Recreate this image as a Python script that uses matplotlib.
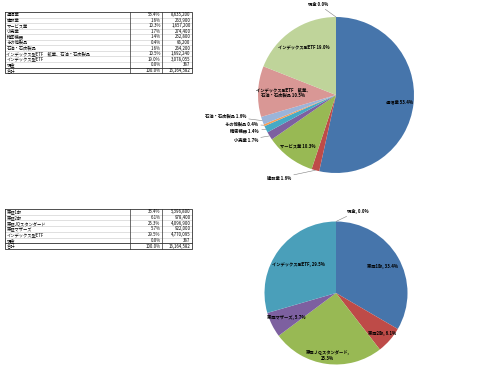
import numpy as np
import matplotlib

matplotlib.use("Agg")
import matplotlib.pyplot as plt

plt.rcParams["font.family"] = ["Noto Sans CJK JP", "DejaVu Sans"]

# 業種別
sector_names = ["通信業", "建設業", "サービス業", "小売業", "精密機器", "その他製品",
                "石油・石炭製品", "インデックス型ETF　鉱業、石油・石炭製品",
                "インデックス型ETF", "現金"]
sector_pct = [53.4, 1.6, 10.3, 1.7, 1.4, 0.4, 1.6, 10.5, 19.0, 0.0]
sector_amount = [8635200, 263900, 1657200, 274400, 232800, 66200, 264200,
                 1692240, 3078055, 387]
sector_colors = ["#4675AB", "#BE4B48", "#98B954", "#7D60A0", "#46AAC5",
                 "#F59D56", "#9BB4D9", "#D99795", "#BFD49A", "#FFFFFF"]

# 市場別
market_names = ["東証1部", "東証2部", "東証JQスタンダード", "東証マザーズ",
                "インデックス型ETF", "現金"]
market_labels = ["東証1部", "東証2部", "東証ＪＱスタンダード", "東証マザーズ",
                 "インデックス型ETF", "現金"]
market_pct = [33.4, 6.1, 25.3, 5.7, 29.5, 0.0]
market_amount = [5396800, 978400, 4096900, 922000, 4770095, 387]
market_colors = ["#4675AB", "#BE4B48", "#98B954", "#7D60A0", "#4A9FBA", "#FFFFFF"]

W, H = 480, 382
fig = plt.figure(figsize=(4.8, 3.82), dpi=100)
ax = fig.add_axes([0, 0, 1, 1])
ax.set_xlim(0, W)
ax.set_ylim(0, H)
ax.axis("off")

FS = 3.1


def draw_table(top, row_h, names, pcts, amounts):
    x0, x1, x2, x3 = 5, 130, 162, 192
    rows = list(zip(names, [f"{p:.1f}%" for p in pcts],
                    [f"{a:,}" for a in amounts]))
    total = sum(amounts)
    rows.append(("合計", f"{100 * total / total:.1f}%", f"{total:,}"))
    n = len(rows)
    ys = [H - (top + i * row_h) for i in range(n + 1)]
    for i in range(1, n):
        ax.plot([x0, x3], [ys[i], ys[i]], color="#C8C8C8", lw=0.4)
    ax.plot([x0, x3], [ys[n - 1], ys[n - 1]], color="#333333", lw=0.6)
    ax.plot([x0, x3, x3, x0, x0], [ys[0], ys[0], ys[n], ys[n], ys[0]],
            color="#333333", lw=0.6)
    for xv in (x1, x2):
        ax.plot([xv, xv], [ys[0], ys[n]], color="#333333", lw=0.5)
    for i, (nm, p, a) in enumerate(rows):
        yc = (ys[i] + ys[i + 1]) / 2
        ax.text(x0 + 1.5, yc, nm, fontsize=FS, va="center", ha="left")
        ax.text(x2 - 1.5, yc, p, fontsize=FS, va="center", ha="right")
        ax.text(x3 - 1.5, yc, a, fontsize=FS, va="center", ha="right")


draw_table(12, 5.55, sector_names, sector_pct, sector_amount)
draw_table(209, 5.7, market_names, market_pct, market_amount)


def draw_pie(cx, cy, r, values, colors):
    wedges, _ = ax.pie(values, colors=colors, startangle=90, counterclock=False,
                       radius=r, center=(cx, H - cy), frame=True,
                       wedgeprops=dict(linewidth=0))
    ax.set_xlim(0, W)
    ax.set_ylim(0, H)
    ax.set_aspect("equal")
    ax.axis("off")
    return wedges


def mid(w):
    return np.deg2rad((w.theta1 + w.theta2) / 2)


def inner_label(w, cx, cy, r, frac, text):
    a = mid(w)
    ax.text(cx + frac * r * np.cos(a), H - cy + frac * r * np.sin(a), text,
            fontsize=FS, fontweight="bold", ha="center", va="center",
            linespacing=1.3)


def outer_label(w, cx, cy, r, tx, ty, text, ha="right"):
    a = mid(w)
    ex, ey = cx + r * np.cos(a), H - cy + r * np.sin(a)
    ax.annotate(text, xy=(ex, ey), xytext=(tx, H - ty), fontsize=FS,
                fontweight="bold", ha=ha, va="center",
                arrowprops=dict(arrowstyle="-", color="#808080", lw=0.4,
                                shrinkA=0, shrinkB=0))


# 業種別 pie
c1x, c1y, r1 = 336, 95, 78
w1 = draw_pie(c1x, c1y, r1, sector_pct, sector_colors)
inner_label(w1[0], c1x, c1y, r1, 0.82, f"{sector_names[0]} {sector_pct[0]}%")
inner_label(w1[2], c1x, c1y, r1, 0.82, f"{sector_names[2]} {sector_pct[2]}%")
inner_label(w1[7], c1x, c1y, r1, 0.68,
            f"インデックス型ETF　鉱業、\n石油・石炭製品 {sector_pct[7]}%")
inner_label(w1[8], c1x, c1y, r1, 0.74, f"{sector_names[8]} {sector_pct[8]}%")
outer_label(w1[1], c1x, c1y, r1, 291, 178, f"{sector_names[1]} {sector_pct[1]}%")
outer_label(w1[3], c1x, c1y, r1, 258, 140, f"{sector_names[3]} {sector_pct[3]}%")
outer_label(w1[4], c1x, c1y, r1, 259, 131, f"{sector_names[4]} {sector_pct[4]}%")
outer_label(w1[5], c1x, c1y, r1, 258, 124, f"{sector_names[5]} {sector_pct[5]}%")
outer_label(w1[6], c1x, c1y, r1, 246, 116, f"{sector_names[6]} {sector_pct[6]}%")
outer_label(w1[9], c1x, c1y, r1, 328, 4, f"{sector_names[9]} {sector_pct[9]}%")

# 市場別 pie
c2x, c2y, r2 = 336, 293, 71.5
w2 = draw_pie(c2x, c2y, r2, market_pct, market_colors)
inner_label(w2[0], c2x, c2y, r2, 0.75, f"{market_labels[0]}, {market_pct[0]}%")
inner_label(w2[1], c2x, c2y, r2, 0.86, f"{market_labels[1]}, {market_pct[1]}%")
inner_label(w2[2], c2x, c2y, r2, 0.88, f"{market_labels[2]},\n{market_pct[2]}%")
inner_label(w2[3], c2x, c2y, r2, 0.78, f"{market_labels[3]}, {market_pct[3]}%")
inner_label(w2[4], c2x, c2y, r2, 0.66, f"{market_labels[4]}, {market_pct[4]}%")
outer_label(w2[5], c2x, c2y, r2, 347, 211, f"{market_labels[5]}, {market_pct[5]}%",
            ha="left")

fig.savefig("out.png", dpi=100)
